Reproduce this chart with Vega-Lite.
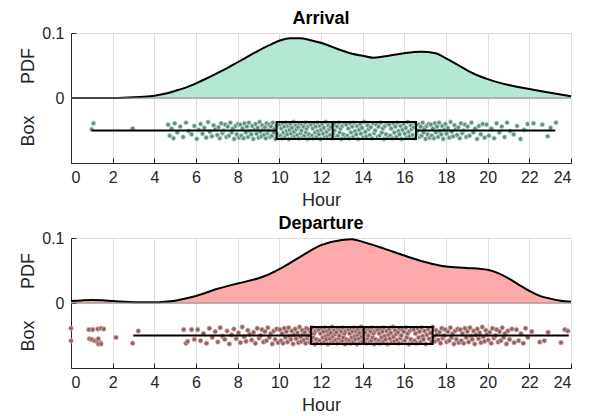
{
"$schema": "https://vega.github.io/schema/vega-lite/v6.json",
"padding": {"left": 18, "top": 10, "right": 10, "bottom": 3},
"spacing": 6,
"config": {
 "font": "Liberation Sans",
 "view": {"stroke": null},
 "axis": {"domainColor": "#262626", "tickColor": "#262626", "labelColor": "#262626", "titleColor": "#262626", "gridColor": "#dedede", "labelFontSize": 16, "titleFontSize": 18, "titleFontWeight": "normal", "labelFont": "Liberation Sans", "titleFont": "Liberation Sans"},
 "title": {"fontSize": 18, "fontWeight": "bold", "font": "Liberation Sans", "color": "black", "anchor": "middle", "offset": -3}
},
"datasets": {
 "apdf": [{"h":0,"pdf":0},{"h":1,"pdf":0},{"h":2,"pdf":0},{"h":2.5,"pdf":0.0003},{"h":3,"pdf":0.001},{"h":3.5,"pdf":0.002},{"h":4,"pdf":0.0036},{"h":4.5,"pdf":0.0065},{"h":5,"pdf":0.011},{"h":5.5,"pdf":0.016},{"h":6,"pdf":0.0226},{"h":6.5,"pdf":0.030},{"h":7,"pdf":0.038},{"h":7.5,"pdf":0.046},{"h":8,"pdf":0.055},{"h":8.5,"pdf":0.064},{"h":9,"pdf":0.073},{"h":9.5,"pdf":0.081},{"h":10,"pdf":0.088},{"h":10.5,"pdf":0.092},{"h":11,"pdf":0.092},{"h":11.5,"pdf":0.089},{"h":12,"pdf":0.085},{"h":12.5,"pdf":0.079},{"h":13,"pdf":0.073},{"h":13.5,"pdf":0.068},{"h":14,"pdf":0.065},{"h":14.5,"pdf":0.062},{"h":15,"pdf":0.064},{"h":16,"pdf":0.069},{"h":16.8,"pdf":0.071},{"h":17.5,"pdf":0.069},{"h":18,"pdf":0.061},{"h":18.5,"pdf":0.052},{"h":19,"pdf":0.043},{"h":19.5,"pdf":0.035},{"h":20,"pdf":0.029},{"h":20.5,"pdf":0.024},{"h":21,"pdf":0.020},{"h":22,"pdf":0.014},{"h":23,"pdf":0.008},{"h":24,"pdf":0.0026}],
 "dpdf": [{"h":0,"pdf":0.003},{"h":0.5,"pdf":0.004},{"h":1,"pdf":0.0046},{"h":1.5,"pdf":0.0043},{"h":2,"pdf":0.003},{"h":3,"pdf":0.0013},{"h":4,"pdf":0.001},{"h":4.5,"pdf":0.0018},{"h":5,"pdf":0.0036},{"h":5.5,"pdf":0.0068},{"h":6,"pdf":0.0108},{"h":7,"pdf":0.0215},{"h":7.5,"pdf":0.026},{"h":8,"pdf":0.030},{"h":9,"pdf":0.038},{"h":9.5,"pdf":0.044},{"h":10,"pdf":0.052},{"h":11,"pdf":0.071},{"h":12,"pdf":0.089},{"h":13,"pdf":0.097},{"h":13.5,"pdf":0.098},{"h":14,"pdf":0.094},{"h":15,"pdf":0.084},{"h":16,"pdf":0.073},{"h":17,"pdf":0.063},{"h":18,"pdf":0.056},{"h":19,"pdf":0.054},{"h":20,"pdf":0.051},{"h":20.5,"pdf":0.046},{"h":21,"pdf":0.038},{"h":21.5,"pdf":0.028},{"h":22,"pdf":0.0185},{"h":22.5,"pdf":0.011},{"h":23,"pdf":0.0067},{"h":23.5,"pdf":0.0036},{"h":24,"pdf":0.002}],
 "abox": [{"lo":0.99,"q1":9.87,"med":12.56,"q3":16.56,"hi":23.25}],
 "dbox": [{"lo":2.99,"q1":11.52,"med":14.05,"q3":17.36,"hi":23.89}],
 "apts": [{"h":0.99,"j":-0.048},{"h":1.08,"j":-0.039},{"h":2.96,"j":-0.047},
{"h":4.66,"j":-0.041},{"h":4.74,"j":-0.058},{"h":4.83,"j":-0.047},{"h":4.92,"j":-0.062},{"h":4.98,"j":-0.039},
{"h":5.10,"j":-0.053},{"h":5.24,"j":-0.044},{"h":5.38,"j":-0.060},{"h":5.52,"j":-0.038},{"h":5.66,"j":-0.051},{"h":5.79,"j":-0.056},{"h":5.92,"j":-0.043},
{"h":6.04,"j":-0.063},{"h":6.13,"j":-0.049},{"h":6.22,"j":-0.040},{"h":6.31,"j":-0.055},{"h":6.40,"j":-0.046},{"h":6.49,"j":-0.061},{"h":6.58,"j":-0.037},{"h":6.67,"j":-0.052},{"h":6.76,"j":-0.059},{"h":6.85,"j":-0.042},{"h":6.94,"j":-0.048},
{"h":7.02,"j":-0.057},{"h":7.08,"j":-0.045},{"h":7.14,"j":-0.062},{"h":7.21,"j":-0.039},{"h":7.27,"j":-0.054},{"h":7.33,"j":-0.050},{"h":7.40,"j":-0.041},{"h":7.46,"j":-0.060},{"h":7.52,"j":-0.044},{"h":7.58,"j":-0.058},{"h":7.65,"j":-0.038},{"h":7.71,"j":-0.053},{"h":7.77,"j":-0.047},{"h":7.83,"j":-0.063},{"h":7.90,"j":-0.043},{"h":7.96,"j":-0.056},
{"h":8.02,"j":-0.040},{"h":8.07,"j":-0.061},{"h":8.12,"j":-0.041},{"h":8.18,"j":-0.058},{"h":8.23,"j":-0.047},{"h":8.28,"j":-0.062},{"h":8.33,"j":-0.039},{"h":8.39,"j":-0.053},{"h":8.44,"j":-0.044},{"h":8.49,"j":-0.060},{"h":8.54,"j":-0.038},{"h":8.60,"j":-0.051},{"h":8.65,"j":-0.056},{"h":8.70,"j":-0.043},{"h":8.75,"j":-0.063},{"h":8.81,"j":-0.049},{"h":8.86,"j":-0.040},{"h":8.91,"j":-0.055},{"h":8.96,"j":-0.046},
{"h":9.01,"j":-0.061},{"h":9.05,"j":-0.037},{"h":9.10,"j":-0.052},{"h":9.14,"j":-0.059},{"h":9.18,"j":-0.042},{"h":9.22,"j":-0.048},{"h":9.27,"j":-0.057},{"h":9.31,"j":-0.045},{"h":9.35,"j":-0.062},{"h":9.39,"j":-0.039},{"h":9.43,"j":-0.054},{"h":9.48,"j":-0.050},{"h":9.52,"j":-0.041},{"h":9.56,"j":-0.060},{"h":9.60,"j":-0.044},{"h":9.65,"j":-0.058},{"h":9.69,"j":-0.038},{"h":9.73,"j":-0.053},{"h":9.77,"j":-0.047},{"h":9.81,"j":-0.063},{"h":9.86,"j":-0.043},{"h":9.90,"j":-0.056},{"h":9.94,"j":-0.040},{"h":9.98,"j":-0.061},
{"h":10.02,"j":-0.041},{"h":10.05,"j":-0.058},{"h":10.09,"j":-0.047},{"h":10.13,"j":-0.062},{"h":10.16,"j":-0.039},{"h":10.20,"j":-0.053},{"h":10.24,"j":-0.044},{"h":10.27,"j":-0.060},{"h":10.31,"j":-0.038},{"h":10.35,"j":-0.051},{"h":10.38,"j":-0.056},{"h":10.42,"j":-0.043},{"h":10.46,"j":-0.063},{"h":10.49,"j":-0.049},{"h":10.53,"j":-0.040},{"h":10.57,"j":-0.055},{"h":10.60,"j":-0.046},{"h":10.64,"j":-0.061},{"h":10.68,"j":-0.037},{"h":10.71,"j":-0.052},{"h":10.75,"j":-0.059},{"h":10.79,"j":-0.042},{"h":10.82,"j":-0.048},{"h":10.86,"j":-0.057},{"h":10.90,"j":-0.045},{"h":10.93,"j":-0.062},{"h":10.97,"j":-0.039},
{"h":11.02,"j":-0.054},{"h":11.06,"j":-0.050},{"h":11.09,"j":-0.041},{"h":11.13,"j":-0.060},{"h":11.17,"j":-0.044},{"h":11.20,"j":-0.058},{"h":11.24,"j":-0.038},{"h":11.28,"j":-0.053},{"h":11.31,"j":-0.047},{"h":11.35,"j":-0.063},{"h":11.39,"j":-0.043},{"h":11.42,"j":-0.056},{"h":11.46,"j":-0.040},{"h":11.50,"j":-0.061},{"h":11.53,"j":-0.041},{"h":11.57,"j":-0.058},{"h":11.61,"j":-0.047},{"h":11.64,"j":-0.062},{"h":11.68,"j":-0.039},{"h":11.72,"j":-0.053},{"h":11.75,"j":-0.044},{"h":11.79,"j":-0.060},{"h":11.83,"j":-0.038},{"h":11.86,"j":-0.051},{"h":11.90,"j":-0.056},{"h":11.94,"j":-0.043},{"h":11.98,"j":-0.063},
{"h":12.01,"j":-0.049},{"h":12.05,"j":-0.040},{"h":12.10,"j":-0.055},{"h":12.14,"j":-0.046},{"h":12.18,"j":-0.061},{"h":12.22,"j":-0.037},{"h":12.27,"j":-0.052},{"h":12.31,"j":-0.059},{"h":12.35,"j":-0.042},{"h":12.39,"j":-0.048},{"h":12.43,"j":-0.057},{"h":12.48,"j":-0.045},{"h":12.52,"j":-0.062},{"h":12.56,"j":-0.039},{"h":12.60,"j":-0.054},{"h":12.65,"j":-0.050},{"h":12.69,"j":-0.041},{"h":12.73,"j":-0.060},{"h":12.77,"j":-0.044},{"h":12.81,"j":-0.058},{"h":12.86,"j":-0.038},{"h":12.90,"j":-0.053},{"h":12.94,"j":-0.047},{"h":12.98,"j":-0.063},
{"h":13.02,"j":-0.043},{"h":13.07,"j":-0.056},{"h":13.12,"j":-0.040},{"h":13.16,"j":-0.061},{"h":13.21,"j":-0.041},{"h":13.26,"j":-0.058},{"h":13.31,"j":-0.047},{"h":13.35,"j":-0.062},{"h":13.40,"j":-0.039},{"h":13.45,"j":-0.053},{"h":13.50,"j":-0.044},{"h":13.54,"j":-0.060},{"h":13.59,"j":-0.038},{"h":13.64,"j":-0.051},{"h":13.69,"j":-0.056},{"h":13.73,"j":-0.043},{"h":13.78,"j":-0.063},{"h":13.83,"j":-0.049},{"h":13.88,"j":-0.040},{"h":13.92,"j":-0.055},{"h":13.97,"j":-0.046},
{"h":14.03,"j":-0.061},{"h":14.08,"j":-0.037},{"h":14.13,"j":-0.052},{"h":14.18,"j":-0.059},{"h":14.24,"j":-0.042},{"h":14.29,"j":-0.048},{"h":14.34,"j":-0.057},{"h":14.39,"j":-0.045},{"h":14.45,"j":-0.062},{"h":14.50,"j":-0.039},{"h":14.55,"j":-0.054},{"h":14.60,"j":-0.050},{"h":14.66,"j":-0.041},{"h":14.71,"j":-0.060},{"h":14.76,"j":-0.044},{"h":14.81,"j":-0.058},{"h":14.87,"j":-0.038},{"h":14.92,"j":-0.053},{"h":14.97,"j":-0.047},
{"h":15.02,"j":-0.063},{"h":15.07,"j":-0.043},{"h":15.12,"j":-0.056},{"h":15.17,"j":-0.040},{"h":15.22,"j":-0.061},{"h":15.27,"j":-0.041},{"h":15.32,"j":-0.058},{"h":15.37,"j":-0.047},{"h":15.42,"j":-0.062},{"h":15.47,"j":-0.039},{"h":15.52,"j":-0.053},{"h":15.57,"j":-0.044},{"h":15.62,"j":-0.060},{"h":15.67,"j":-0.038},{"h":15.72,"j":-0.051},{"h":15.77,"j":-0.056},{"h":15.82,"j":-0.043},{"h":15.87,"j":-0.063},{"h":15.92,"j":-0.049},{"h":15.97,"j":-0.040},
{"h":16.02,"j":-0.055},{"h":16.07,"j":-0.046},{"h":16.12,"j":-0.061},{"h":16.16,"j":-0.037},{"h":16.21,"j":-0.052},{"h":16.26,"j":-0.059},{"h":16.31,"j":-0.042},{"h":16.35,"j":-0.048},{"h":16.40,"j":-0.057},{"h":16.45,"j":-0.045},{"h":16.50,"j":-0.062},{"h":16.54,"j":-0.039},{"h":16.59,"j":-0.054},{"h":16.64,"j":-0.050},{"h":16.69,"j":-0.041},{"h":16.73,"j":-0.060},{"h":16.78,"j":-0.044},{"h":16.83,"j":-0.058},{"h":16.88,"j":-0.038},{"h":16.92,"j":-0.053},{"h":16.97,"j":-0.047},
{"h":17.02,"j":-0.063},{"h":17.07,"j":-0.043},{"h":17.12,"j":-0.056},{"h":17.17,"j":-0.040},{"h":17.22,"j":-0.061},{"h":17.27,"j":-0.041},{"h":17.32,"j":-0.058},{"h":17.37,"j":-0.047},{"h":17.42,"j":-0.062},{"h":17.47,"j":-0.039},{"h":17.52,"j":-0.053},{"h":17.57,"j":-0.044},{"h":17.62,"j":-0.060},{"h":17.67,"j":-0.038},{"h":17.72,"j":-0.051},{"h":17.77,"j":-0.056},{"h":17.82,"j":-0.043},{"h":17.87,"j":-0.063},{"h":17.92,"j":-0.049},{"h":17.97,"j":-0.040},
{"h":18.03,"j":-0.055},{"h":18.09,"j":-0.046},{"h":18.16,"j":-0.061},{"h":18.22,"j":-0.037},{"h":18.28,"j":-0.052},{"h":18.34,"j":-0.059},{"h":18.41,"j":-0.042},{"h":18.47,"j":-0.048},{"h":18.53,"j":-0.057},{"h":18.59,"j":-0.045},{"h":18.66,"j":-0.062},{"h":18.72,"j":-0.039},{"h":18.78,"j":-0.054},{"h":18.84,"j":-0.050},{"h":18.91,"j":-0.041},{"h":18.97,"j":-0.060},
{"h":19.04,"j":-0.044},{"h":19.13,"j":-0.058},{"h":19.22,"j":-0.038},{"h":19.31,"j":-0.053},{"h":19.40,"j":-0.047},{"h":19.49,"j":-0.063},{"h":19.58,"j":-0.043},{"h":19.67,"j":-0.056},{"h":19.76,"j":-0.040},{"h":19.85,"j":-0.061},{"h":19.95,"j":-0.041},
{"h":20.06,"j":-0.058},{"h":20.18,"j":-0.047},{"h":20.31,"j":-0.062},{"h":20.43,"j":-0.039},{"h":20.56,"j":-0.053},{"h":20.68,"j":-0.044},{"h":20.81,"j":-0.060},{"h":20.93,"j":-0.038},
{"h":21.08,"j":-0.051},{"h":21.25,"j":-0.056},{"h":21.41,"j":-0.043},{"h":21.58,"j":-0.063},{"h":21.75,"j":-0.049},{"h":21.91,"j":-0.040},
{"h":22.20,"j":-0.039},{"h":22.62,"j":-0.041},{"h":22.88,"j":-0.059},{"h":23.02,"j":-0.046},{"h":23.28,"j":-0.038}],
 "dpts": [{"h":0.0,"j":-0.039},{"h":0.0,"j":-0.058},{"h":0.86,"j":-0.041},{"h":1.04,"j":-0.041},{"h":1.28,"j":-0.040},{"h":1.44,"j":-0.039},{"h":1.57,"j":-0.040},{"h":0.88,"j":-0.055},{"h":0.99,"j":-0.056},{"h":1.12,"j":-0.058},{"h":1.25,"j":-0.059},{"h":1.31,"j":-0.055},{"h":1.41,"j":-0.061},{"h":1.31,"j":-0.063},{"h":1.44,"j":-0.063},{"h":2.16,"j":-0.053},{"h":2.96,"j":-0.062},{"h":3.23,"j":-0.043},
{"h":5.41,"j":-0.041},{"h":5.52,"j":-0.062},{"h":5.60,"j":-0.059},{"h":5.79,"j":-0.041},{"h":5.92,"j":-0.056},
{"h":6.08,"j":-0.041},{"h":6.22,"j":-0.058},{"h":6.36,"j":-0.047},{"h":6.50,"j":-0.062},{"h":6.64,"j":-0.039},{"h":6.78,"j":-0.053},{"h":6.92,"j":-0.044},
{"h":7.05,"j":-0.060},{"h":7.16,"j":-0.038},{"h":7.27,"j":-0.051},{"h":7.38,"j":-0.056},{"h":7.49,"j":-0.043},{"h":7.60,"j":-0.063},{"h":7.71,"j":-0.049},{"h":7.82,"j":-0.040},{"h":7.93,"j":-0.055},
{"h":8.04,"j":-0.046},{"h":8.13,"j":-0.061},{"h":8.22,"j":-0.037},{"h":8.31,"j":-0.052},{"h":8.40,"j":-0.059},{"h":8.49,"j":-0.042},{"h":8.58,"j":-0.048},{"h":8.67,"j":-0.057},{"h":8.76,"j":-0.045},{"h":8.85,"j":-0.062},{"h":8.94,"j":-0.039},
{"h":9.03,"j":-0.054},{"h":9.10,"j":-0.050},{"h":9.17,"j":-0.041},{"h":9.24,"j":-0.060},{"h":9.31,"j":-0.044},{"h":9.38,"j":-0.058},{"h":9.45,"j":-0.038},{"h":9.52,"j":-0.053},{"h":9.59,"j":-0.047},{"h":9.66,"j":-0.063},{"h":9.73,"j":-0.043},{"h":9.80,"j":-0.056},{"h":9.87,"j":-0.040},{"h":9.94,"j":-0.061},
{"h":10.03,"j":-0.041},{"h":10.08,"j":-0.058},{"h":10.13,"j":-0.047},{"h":10.18,"j":-0.062},{"h":10.24,"j":-0.039},{"h":10.29,"j":-0.053},{"h":10.34,"j":-0.044},{"h":10.39,"j":-0.060},{"h":10.45,"j":-0.038},{"h":10.50,"j":-0.051},{"h":10.55,"j":-0.056},{"h":10.60,"j":-0.043},{"h":10.66,"j":-0.063},{"h":10.71,"j":-0.049},{"h":10.76,"j":-0.040},{"h":10.81,"j":-0.055},{"h":10.87,"j":-0.046},{"h":10.92,"j":-0.061},{"h":10.97,"j":-0.037},
{"h":11.02,"j":-0.052},{"h":11.06,"j":-0.059},{"h":11.10,"j":-0.042},{"h":11.14,"j":-0.048},{"h":11.18,"j":-0.057},{"h":11.22,"j":-0.045},{"h":11.26,"j":-0.062},{"h":11.30,"j":-0.039},{"h":11.34,"j":-0.054},{"h":11.38,"j":-0.050},{"h":11.42,"j":-0.041},{"h":11.46,"j":-0.060},{"h":11.50,"j":-0.044},{"h":11.54,"j":-0.058},{"h":11.58,"j":-0.038},{"h":11.62,"j":-0.053},{"h":11.66,"j":-0.047},{"h":11.70,"j":-0.063},{"h":11.74,"j":-0.043},{"h":11.78,"j":-0.056},{"h":11.82,"j":-0.040},{"h":11.86,"j":-0.061},{"h":11.90,"j":-0.041},{"h":11.94,"j":-0.058},{"h":11.98,"j":-0.047},
{"h":12.02,"j":-0.062},{"h":12.05,"j":-0.039},{"h":12.09,"j":-0.053},{"h":12.12,"j":-0.044},{"h":12.16,"j":-0.060},{"h":12.19,"j":-0.038},{"h":12.23,"j":-0.051},{"h":12.26,"j":-0.056},{"h":12.30,"j":-0.043},{"h":12.33,"j":-0.063},{"h":12.36,"j":-0.049},{"h":12.40,"j":-0.040},{"h":12.43,"j":-0.055},{"h":12.47,"j":-0.046},{"h":12.50,"j":-0.061},{"h":12.54,"j":-0.037},{"h":12.57,"j":-0.052},{"h":12.61,"j":-0.059},{"h":12.64,"j":-0.042},{"h":12.67,"j":-0.048},{"h":12.71,"j":-0.057},{"h":12.74,"j":-0.045},{"h":12.78,"j":-0.062},{"h":12.81,"j":-0.039},{"h":12.85,"j":-0.054},{"h":12.88,"j":-0.050},{"h":12.92,"j":-0.041},{"h":12.95,"j":-0.060},{"h":12.98,"j":-0.044},
{"h":13.02,"j":-0.058},{"h":13.05,"j":-0.038},{"h":13.08,"j":-0.053},{"h":13.12,"j":-0.047},{"h":13.15,"j":-0.063},{"h":13.18,"j":-0.043},{"h":13.22,"j":-0.056},{"h":13.25,"j":-0.040},{"h":13.28,"j":-0.061},{"h":13.32,"j":-0.041},{"h":13.35,"j":-0.058},{"h":13.38,"j":-0.047},{"h":13.42,"j":-0.062},{"h":13.45,"j":-0.039},{"h":13.48,"j":-0.053},{"h":13.52,"j":-0.044},{"h":13.55,"j":-0.060},{"h":13.58,"j":-0.038},{"h":13.62,"j":-0.051},{"h":13.65,"j":-0.056},{"h":13.68,"j":-0.043},{"h":13.72,"j":-0.063},{"h":13.75,"j":-0.049},{"h":13.78,"j":-0.040},{"h":13.82,"j":-0.055},{"h":13.85,"j":-0.046},{"h":13.88,"j":-0.061},{"h":13.92,"j":-0.037},{"h":13.95,"j":-0.052},{"h":13.98,"j":-0.059},
{"h":14.02,"j":-0.042},{"h":14.05,"j":-0.048},{"h":14.09,"j":-0.057},{"h":14.12,"j":-0.045},{"h":14.16,"j":-0.062},{"h":14.19,"j":-0.039},{"h":14.23,"j":-0.054},{"h":14.27,"j":-0.050},{"h":14.30,"j":-0.041},{"h":14.34,"j":-0.060},{"h":14.37,"j":-0.044},{"h":14.41,"j":-0.058},{"h":14.45,"j":-0.038},{"h":14.48,"j":-0.053},{"h":14.52,"j":-0.047},{"h":14.55,"j":-0.063},{"h":14.59,"j":-0.043},{"h":14.62,"j":-0.056},{"h":14.66,"j":-0.040},{"h":14.70,"j":-0.061},{"h":14.73,"j":-0.041},{"h":14.77,"j":-0.058},{"h":14.80,"j":-0.047},{"h":14.84,"j":-0.062},{"h":14.88,"j":-0.039},{"h":14.91,"j":-0.053},{"h":14.95,"j":-0.044},{"h":14.98,"j":-0.060},
{"h":15.02,"j":-0.038},{"h":15.06,"j":-0.051},{"h":15.10,"j":-0.056},{"h":15.15,"j":-0.043},{"h":15.19,"j":-0.063},{"h":15.23,"j":-0.049},{"h":15.27,"j":-0.040},{"h":15.31,"j":-0.055},{"h":15.35,"j":-0.046},{"h":15.40,"j":-0.061},{"h":15.44,"j":-0.037},{"h":15.48,"j":-0.052},{"h":15.52,"j":-0.059},{"h":15.56,"j":-0.042},{"h":15.60,"j":-0.048},{"h":15.65,"j":-0.057},{"h":15.69,"j":-0.045},{"h":15.73,"j":-0.062},{"h":15.77,"j":-0.039},{"h":15.81,"j":-0.054},{"h":15.85,"j":-0.050},{"h":15.90,"j":-0.041},{"h":15.94,"j":-0.060},{"h":15.98,"j":-0.044},
{"h":16.02,"j":-0.058},{"h":16.07,"j":-0.038},{"h":16.12,"j":-0.053},{"h":16.16,"j":-0.047},{"h":16.21,"j":-0.063},{"h":16.26,"j":-0.043},{"h":16.31,"j":-0.056},{"h":16.35,"j":-0.040},{"h":16.40,"j":-0.061},{"h":16.45,"j":-0.041},{"h":16.50,"j":-0.058},{"h":16.54,"j":-0.047},{"h":16.59,"j":-0.062},{"h":16.64,"j":-0.039},{"h":16.69,"j":-0.053},{"h":16.73,"j":-0.044},{"h":16.78,"j":-0.060},{"h":16.83,"j":-0.038},{"h":16.88,"j":-0.051},{"h":16.92,"j":-0.056},{"h":16.97,"j":-0.043},
{"h":17.03,"j":-0.063},{"h":17.08,"j":-0.049},{"h":17.14,"j":-0.040},{"h":17.19,"j":-0.055},{"h":17.25,"j":-0.046},{"h":17.30,"j":-0.061},{"h":17.36,"j":-0.037},{"h":17.41,"j":-0.052},{"h":17.47,"j":-0.059},{"h":17.52,"j":-0.042},{"h":17.58,"j":-0.048},{"h":17.63,"j":-0.057},{"h":17.69,"j":-0.045},{"h":17.74,"j":-0.062},{"h":17.80,"j":-0.039},{"h":17.85,"j":-0.054},{"h":17.91,"j":-0.050},{"h":17.96,"j":-0.041},
{"h":18.03,"j":-0.060},{"h":18.09,"j":-0.044},{"h":18.15,"j":-0.058},{"h":18.21,"j":-0.038},{"h":18.26,"j":-0.053},{"h":18.32,"j":-0.047},{"h":18.38,"j":-0.063},{"h":18.44,"j":-0.043},{"h":18.50,"j":-0.056},{"h":18.56,"j":-0.040},{"h":18.62,"j":-0.061},{"h":18.68,"j":-0.041},{"h":18.74,"j":-0.058},{"h":18.79,"j":-0.047},{"h":18.85,"j":-0.062},{"h":18.91,"j":-0.039},{"h":18.97,"j":-0.053},
{"h":19.03,"j":-0.044},{"h":19.09,"j":-0.060},{"h":19.15,"j":-0.038},{"h":19.21,"j":-0.051},{"h":19.26,"j":-0.056},{"h":19.32,"j":-0.043},{"h":19.38,"j":-0.063},{"h":19.44,"j":-0.049},{"h":19.50,"j":-0.040},{"h":19.56,"j":-0.055},{"h":19.62,"j":-0.046},{"h":19.68,"j":-0.061},{"h":19.74,"j":-0.037},{"h":19.79,"j":-0.052},{"h":19.85,"j":-0.059},{"h":19.91,"j":-0.042},{"h":19.97,"j":-0.048},
{"h":20.03,"j":-0.057},{"h":20.10,"j":-0.045},{"h":20.17,"j":-0.062},{"h":20.23,"j":-0.039},{"h":20.30,"j":-0.054},{"h":20.37,"j":-0.050},{"h":20.43,"j":-0.041},{"h":20.50,"j":-0.060},{"h":20.57,"j":-0.044},{"h":20.63,"j":-0.058},{"h":20.70,"j":-0.038},{"h":20.77,"j":-0.053},{"h":20.83,"j":-0.047},{"h":20.90,"j":-0.063},{"h":20.97,"j":-0.043},
{"h":21.05,"j":-0.056},{"h":21.16,"j":-0.040},{"h":21.27,"j":-0.061},{"h":21.38,"j":-0.041},{"h":21.49,"j":-0.058},{"h":21.60,"j":-0.047},{"h":21.71,"j":-0.062},{"h":21.82,"j":-0.039},{"h":21.93,"j":-0.053},
{"h":22.12,"j":-0.044},{"h":22.50,"j":-0.060},{"h":22.72,"j":-0.058},{"h":22.90,"j":-0.045},{"h":23.52,"j":-0.061},{"h":23.70,"j":-0.041},{"h":23.85,"j":-0.043}]
},
"vconcat": [
 {
  "title": {"text": "Arrival"},
  "width": 500, "height": 130,
  "resolve": {"axis": {"y": "independent"}},
  "layer": [
   {"data": {"name": "apdf"},
    "mark": {"type": "area", "color": "#b3e8d3", "opacity": 1, "interpolate": "monotone", "line": {"color": "black", "strokeWidth": 2}},
    "encoding": {
     "x": {"field": "h", "type": "quantitative", "scale": {"domain": [0, 24], "nice": false}, "axis": {"values": [0,2,4,6,8,10,12,14,16,18,20,22,24], "format": "d", "title": "Hour", "grid": true, "tickSize": -5, "labelPadding": 11, "titlePadding": 6}},
     "y": {"field": "pdf", "type": "quantitative", "scale": {"domain": [-0.1, 0.1], "nice": false, "zero": false}, "axis": {"orient": "left", "values": [0, 0.1], "labelExpr": "datum.value == 0 ? '0' : '0.1'", "grid": true, "tickSize": -5, "labelPadding": 12, "title": null}}
    }},
   {"data": {"values": [{}]}, "mark": {"type": "rule", "color": "#8c8c8c", "strokeWidth": 1},
    "encoding": {"y": {"datum": 0, "type": "quantitative", "axis": null}}},
   {"data": {"name": "apts"},
    "mark": {"type": "circle", "size": 21, "fill": "#6f8a81", "stroke": "#b3e8d3", "strokeWidth": 0.8, "opacity": 1},
    "encoding": {
     "x": {"field": "h", "type": "quantitative", "title": "Hour"},
     "y": {"field": "j", "type": "quantitative", "axis": {"orient": "left", "values": [0.05, -0.05], "labelExpr": "datum.value > 0 ? 'PDF' : 'Box'", "labelAngle": -90, "labelFontSize": 18, "ticks": false, "domain": false, "grid": false, "labelPadding": 34, "labelAlign": "center", "labelBaseline": "bottom", "title": null}}
    }},
   {"data": {"name": "abox"}, "mark": {"type": "rule", "color": "black", "strokeWidth": 2},
    "encoding": {"x": {"field": "lo", "type": "quantitative", "title": "Hour"}, "x2": {"field": "q1"}, "y": {"datum": -0.05, "type": "quantitative", "axis": null}}},
   {"data": {"name": "abox"}, "mark": {"type": "rule", "color": "black", "strokeWidth": 2},
    "encoding": {"x": {"field": "q3", "type": "quantitative", "title": "Hour"}, "x2": {"field": "hi"}, "y": {"datum": -0.05, "type": "quantitative", "axis": null}}},
   {"data": {"name": "abox"}, "mark": {"type": "rect", "filled": false, "color": "black", "strokeWidth": 2},
    "encoding": {"x": {"field": "q1", "type": "quantitative", "title": "Hour"}, "x2": {"field": "q3"}, "y": {"datum": -0.063, "type": "quantitative", "axis": null}, "y2": {"datum": -0.037}}},
   {"data": {"name": "abox"}, "mark": {"type": "rule", "color": "black", "strokeWidth": 2},
    "encoding": {"x": {"field": "med", "type": "quantitative", "title": "Hour"}, "y": {"datum": -0.063, "type": "quantitative", "axis": null}, "y2": {"datum": -0.037}}}
  ]
 },
 {
  "title": {"text": "Departure"},
  "width": 500, "height": 130,
  "resolve": {"axis": {"y": "independent"}},
  "layer": [
   {"data": {"name": "dpdf"},
    "mark": {"type": "area", "color": "#ffaaaa", "opacity": 1, "interpolate": "monotone", "line": {"color": "black", "strokeWidth": 2}},
    "encoding": {
     "x": {"field": "h", "type": "quantitative", "scale": {"domain": [0, 24], "nice": false}, "axis": {"values": [0,2,4,6,8,10,12,14,16,18,20,22,24], "format": "d", "title": "Hour", "grid": true, "tickSize": -5, "labelPadding": 11, "titlePadding": 6}},
     "y": {"field": "pdf", "type": "quantitative", "scale": {"domain": [-0.1, 0.1], "nice": false, "zero": false}, "axis": {"orient": "left", "values": [0, 0.1], "labelExpr": "datum.value == 0 ? '0' : '0.1'", "grid": true, "tickSize": -5, "labelPadding": 12, "title": null}}
    }},
   {"data": {"values": [{}]}, "mark": {"type": "rule", "color": "#8c8c8c", "strokeWidth": 1},
    "encoding": {"y": {"datum": 0, "type": "quantitative", "axis": null}}},
   {"data": {"name": "dpts"},
    "mark": {"type": "circle", "size": 21, "fill": "#7d6a6a", "stroke": "#f2a3a3", "strokeWidth": 0.8, "opacity": 1},
    "encoding": {
     "x": {"field": "h", "type": "quantitative", "title": "Hour"},
     "y": {"field": "j", "type": "quantitative", "axis": {"orient": "left", "values": [0.05, -0.05], "labelExpr": "datum.value > 0 ? 'PDF' : 'Box'", "labelAngle": -90, "labelFontSize": 18, "ticks": false, "domain": false, "grid": false, "labelPadding": 34, "labelAlign": "center", "labelBaseline": "bottom", "title": null}}
    }},
   {"data": {"name": "dbox"}, "mark": {"type": "rule", "color": "black", "strokeWidth": 2},
    "encoding": {"x": {"field": "lo", "type": "quantitative", "title": "Hour"}, "x2": {"field": "q1"}, "y": {"datum": -0.05, "type": "quantitative", "axis": null}}},
   {"data": {"name": "dbox"}, "mark": {"type": "rule", "color": "black", "strokeWidth": 2},
    "encoding": {"x": {"field": "q3", "type": "quantitative", "title": "Hour"}, "x2": {"field": "hi"}, "y": {"datum": -0.05, "type": "quantitative", "axis": null}}},
   {"data": {"name": "dbox"}, "mark": {"type": "rect", "filled": false, "color": "black", "strokeWidth": 2},
    "encoding": {"x": {"field": "q1", "type": "quantitative", "title": "Hour"}, "x2": {"field": "q3"}, "y": {"datum": -0.063, "type": "quantitative", "axis": null}, "y2": {"datum": -0.037}}},
   {"data": {"name": "dbox"}, "mark": {"type": "rule", "color": "black", "strokeWidth": 2},
    "encoding": {"x": {"field": "med", "type": "quantitative", "title": "Hour"}, "y": {"datum": -0.063, "type": "quantitative", "axis": null}, "y2": {"datum": -0.037}}}
  ]
 }
]
}
